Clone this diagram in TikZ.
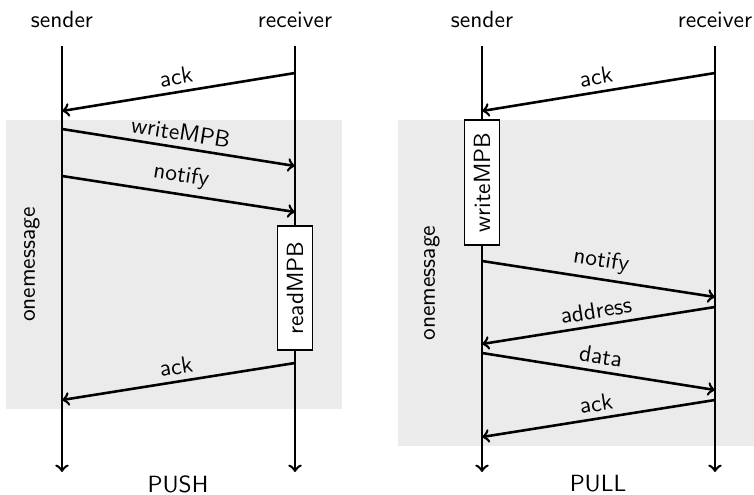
\documentclass[tikz,border=0pt]{standalone}
\usetikzlibrary{positioning,calc,arrows}

\begin{document}
\sffamily
\begin{tikzpicture}[
    lifeline/.style={->, >=to, line width=1.1pt},
    msg/.style={->, >=to, line width=1.1pt},
    msglabel/.style={above, sloped, inner sep=2.5pt},
    actor/.style={inner sep=1pt},
    activity/.style={rectangle, draw, semithick, fill=white, rotate=90, inner sep=0pt, minimum height=0.525cm},
    phase/.style={fill=black!8, draw=none},
    phaselabel/.style={rotate=90}
]
\useasboundingbox (0,0) rectangle (11.31,-7.425);

% Grey phases
\fill[phase] (0.09,-1.80) rectangle (5.13,-6.135);
\fill[phase] (5.97,-1.80) rectangle (11.31,-6.69);

% PUSH actors
\node[actor] (pushsnd) at (0.93,-0.30) {sender};
\node[actor] (pushrcv) at (4.425,-0.30) {receiver};
\coordinate (pushsndtop) at (0.93,-0.69);
\coordinate (pushsndend) at (0.93,-7.08);
\coordinate (pushrcvtop) at (4.425,-0.69);
\coordinate (pushrcvend) at (4.425,-7.08);
\draw[lifeline] (pushsndtop) -- (pushsndend);
\draw[lifeline] (pushrcvtop) -- (pushrcvend);

% PUSH messages
\coordinate (pa1) at (4.425,-1.095);  \coordinate (pa2) at (0.93,-1.665);
\coordinate (pw1) at (0.93,-1.935);   \coordinate (pw2) at (4.425,-2.49);
\coordinate (pn1) at (0.93,-2.64);    \coordinate (pn2) at (4.425,-3.18);
\coordinate (pk1) at (4.425,-5.445);  \coordinate (pk2) at (0.93,-6.0);
\draw[msg] (pa1) -- node[msglabel] {ack} (pa2);
\draw[msg] (pw1) -- node[msglabel] {writeMPB} (pw2);
\draw[msg] (pn1) -- node[msglabel] {notify} (pn2);
\draw[msg] (pk1) -- node[msglabel] {ack} (pk2);

\node[activity, minimum width=1.86cm] (readmpb) at (4.425,-4.32) {readMPB};
\node[phaselabel] (pushphase) at (0.48,-3.97) {onemessage};
\node (push) at (2.67,-7.26) {PUSH};

% PULL actors
\node[actor] (pullsnd) at (7.23,-0.30) {sender};
\node[actor] (pullrcv) at (10.725,-0.30) {receiver};
\coordinate (pullsndtop) at (7.23,-0.69);
\coordinate (pullsndend) at (7.23,-7.08);
\coordinate (pullrcvtop) at (10.725,-0.69);
\coordinate (pullrcvend) at (10.725,-7.08);
\draw[lifeline] (pullsndtop) -- (pullsndend);
\draw[lifeline] (pullrcvtop) -- (pullrcvend);

% PULL messages
\coordinate (qa1) at (10.725,-1.095); \coordinate (qa2) at (7.23,-1.665);
\coordinate (qn1) at (7.23,-3.915);   \coordinate (qn2) at (10.725,-4.455);
\coordinate (qd1) at (10.725,-4.605); \coordinate (qd2) at (7.23,-5.16);
\coordinate (qt1) at (7.23,-5.295);   \coordinate (qt2) at (10.725,-5.85);
\coordinate (qk1) at (10.725,-6.0);   \coordinate (qk2) at (7.23,-6.555);
\draw[msg] (qa1) -- node[msglabel] {ack} (qa2);
\draw[msg] (qn1) -- node[msglabel] {notify} (qn2);
\draw[msg] (qd1) -- node[msglabel] {address} (qd2);
\draw[msg] (qt1) -- node[msglabel] {data} (qt2);
\draw[msg] (qk1) -- node[msglabel] {ack} (qk2);

\node[activity, minimum width=1.875cm] (writempb) at (7.23,-2.7375) {writeMPB};
\node[phaselabel] (pullphase) at (6.48,-4.245) {onemessage};
\node (pull) at (8.97,-7.26) {PULL};

\end{tikzpicture}
\end{document}
